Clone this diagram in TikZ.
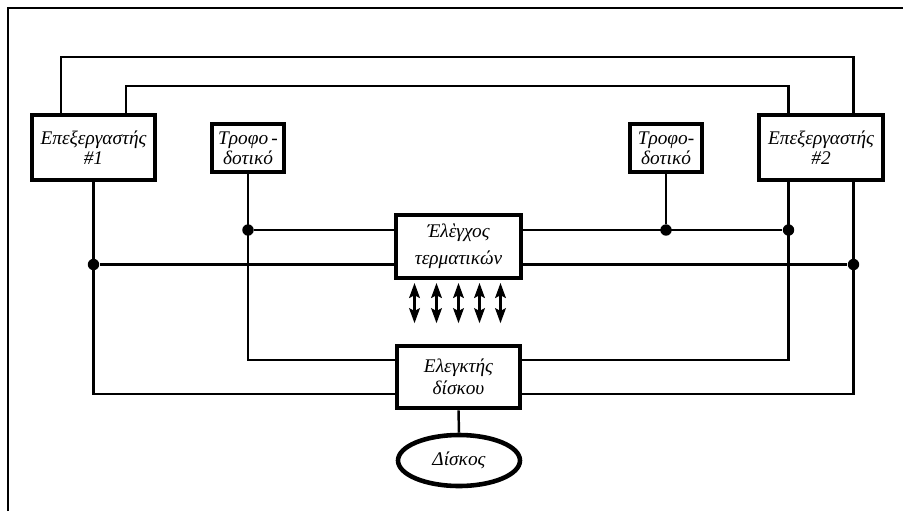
\documentclass[tikz,border=0pt]{standalone}
\usepackage{fontspec}
\setmainfont{Liberation Serif}
\usetikzlibrary{arrows.meta, shapes.geometric}

\begin{document}
\begin{tikzpicture}[
    x=0.02cm, y=-0.02cm,
    unit/.style={
        draw=black, line width=2.6pt, fill=white, align=center, inner sep=1pt,
        font=\itshape\fontsize{11}{11.5}\selectfont
    },
    drive/.style={unit, ellipse},
    bus/.style={line width=1.4pt, black},
    junction/.style={circle, fill=black, inner sep=0pt, minimum size=6.5pt},
    port/.style={
        {Stealth[length=8.5pt, width=6pt, inset=1.5pt]}-{Stealth[length=8.5pt, width=6pt, inset=1.5pt]},
        line width=1.6pt, shorten <=1.5pt
    }
]
\useasboundingbox (0,0) rectangle (903,511);

% frame of the figure
\draw[bus] (8,511) -- (8,8) -- (903,8);

\node[unit, minimum width=2.46cm, minimum height=1.30cm] (p1) at (93.5,147.5) {Επεξεργαστής\\\#1};

\node[unit, minimum width=2.48cm, minimum height=1.30cm] (p2) at (821,147.5) {Επεξεργαστής\\\#2};

\node[unit, minimum width=1.44cm, minimum height=0.96cm] (t1) at (248,148) {Τροφο\,-\\δοτικό};

\node[unit, minimum width=1.44cm, minimum height=0.96cm] (t2) at (666,148) {Τροφο-\\δοτικό};

\node[unit, minimum width=2.50cm, minimum height=1.26cm] (tc) at (458.5,246.5) {Έλὲγχος\\[4pt]τερματικών};

\node[unit, minimum width=2.46cm, minimum height=1.24cm] (dc) at (458.5,377) {Ελεγκτής\\[1pt]δίσκου};

\node[drive, minimum width=2.44cm, minimum height=1.02cm] (disk) at (459,460.5) {Δίσκος};

% bus end points
\coordinate (p1a) at ([xshift=-0.65cm]p1.north);
\coordinate (p1b) at ([xshift=0.65cm]p1.north);
\coordinate (p2a) at ([xshift=-0.65cm]p2.north);
\coordinate (p2b) at ([xshift=0.65cm]p2.north);
\coordinate (p2c) at ([xshift=-0.65cm]p2.south);
\coordinate (p2d) at ([xshift=0.65cm]p2.south);
\coordinate (topA) at (0,57);
\coordinate (topB) at (0,86);
\coordinate (tcWa) at ([yshift=0.33cm]tc.west);
\coordinate (tcWb) at ([yshift=-0.36cm]tc.west);
\coordinate (tcEa) at ([yshift=0.33cm]tc.east);
\coordinate (tcEb) at ([yshift=-0.36cm]tc.east);
\coordinate (dcWa) at ([yshift=0.34cm]dc.west);
\coordinate (dcWb) at ([yshift=-0.34cm]dc.west);
\coordinate (dcEa) at ([yshift=0.34cm]dc.east);
\coordinate (dcEb) at ([yshift=-0.34cm]dc.east);

% links between the two processors
\draw[bus] (p1a) -- (p1a |- topA) -| (p2b);
\draw[bus] (p1b) -- (p1b |- topB) -| (p2a);

% lines down to the disk controller
\draw[bus] (p1.south) |- (dcWb);
\draw[bus] (t1.south) |- (dcWa);
\draw[bus] (p2c) |- (dcEa);
\draw[bus] (p2d) |- (dcEb);

\node[junction] (j1) at (t1.south |- tcWa) {};
\node[junction] (j2) at (p1.south |- tcWb) {};
\node[junction] (j3) at (t2.south |- tcEa) {};
\node[junction] (j4) at (p2c |- tcEa) {};
\node[junction] (j5) at (p2d |- tcEb) {};

\draw[bus] (j1) -- (tcWa);
\draw[bus] (j2) -- (tcWb);
\draw[bus] (tcEa) -- (j4);
\draw[bus] (t2.south) -- (j3);
\draw[bus] (tcEb) -- (j5);

\draw[bus] (dc.south) -- (disk.north);

% terminal lines
\foreach \dx in {-0.88,-0.44,0,0.42,0.84}
    \draw[port] ([xshift=\dx cm]tc.south) -- ++(0,43);

\end{tikzpicture}
\end{document}
